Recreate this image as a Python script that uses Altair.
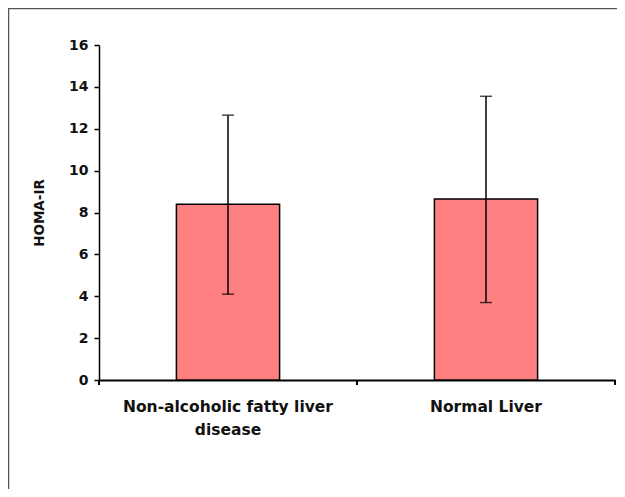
import altair as alt
import pandas as pd

categories = ["Non-alcoholic fatty liver disease", "Normal Liver"]
means = [8.40, 8.65]
lows = [4.10, 3.70]
highs = [12.65, 13.55]

df = pd.DataFrame({"group": categories, "mean": means, "lo": lows, "hi": highs})

W, H = 516, 335
LABEL_FONT = "DejaVu Sans"

xenc = alt.X(
    "group:N",
    sort=categories,
    scale=alt.Scale(paddingInner=0, paddingOuter=0),
    axis=alt.Axis(
        title=None, labelAngle=0, ticks=False, domainColor="black", domainWidth=2,
        labelFont=LABEL_FONT, labelFontWeight="bold", labelFontSize=15.5,
        labelColor="#111", labelPadding=19, labelLineHeight=23, labelLimit=400,
        labelExpr="datum.label == 'Non-alcoholic fatty liver disease' ? ['Non-alcoholic fatty liver', 'disease'] : datum.label",
    ),
)
yscale = alt.Scale(domain=[0, 16], nice=False)

base = alt.Chart(df)

bars = base.mark_bar(
    width=alt.RelativeBandSize(0.4), color="#FF8080", stroke="black", strokeWidth=1.5
).encode(
    x=xenc,
    y=alt.Y(
        "mean:Q",
        scale=yscale,
        axis=alt.Axis(
            title="HOMA-IR", values=list(range(0, 17, 2)), grid=False,
            domainColor="black", domainWidth=1.5, tickColor="black", tickWidth=1.5,
            tickSize=5, labelFont=LABEL_FONT, labelFontWeight="bold",
            labelFontSize=14, labelColor="#111", labelPadding=6,
            titleFont=LABEL_FONT, titleFontWeight="bold", titleFontSize=13.5,
            titleColor="#111", titlePadding=22,
        ),
    ),
)

err = base.mark_rule(color="black", strokeWidth=1.5).encode(
    x=alt.X("group:N", sort=categories), y="lo:Q", y2="hi:Q"
)
cap_hi = base.mark_tick(color="black", thickness=1.5, size=12, orient="horizontal").encode(
    x=alt.X("group:N", sort=categories), y="hi:Q"
)
cap_lo = base.mark_tick(color="black", thickness=1.5, size=12, orient="horizontal").encode(
    x=alt.X("group:N", sort=categories), y="lo:Q"
)

xticks = base.mark_rule(color="black", strokeWidth=2).encode(
    x=alt.X("group:N", sort=categories, bandPosition=0),
    y=alt.value(H), y2=alt.value(H + 5),
)
end_tick = alt.Chart(pd.DataFrame({"a": [0]})).mark_rule(color="black", strokeWidth=2).encode(
    x=alt.value(W), y=alt.value(H), y2=alt.value(H + 5)
)

frame = alt.Chart(pd.DataFrame({"a": [0]})).mark_rect(
    fill=None, stroke="#555", strokeWidth=1.5
).encode(
    x=alt.value(-90.5), x2=alt.value(W + 40), y=alt.value(-36.5), y2=alt.value(H + 200)
)

chart = alt.layer(frame, bars, err, cap_hi, cap_lo, xticks, end_tick).properties(
    width=W, height=H,
    autosize=alt.AutoSizeParams(type="none"),
    padding={"left": 91, "top": 37, "right": 2, "bottom": 109},
).configure_view(stroke=None)

chart.save("out.html", embed_options={"renderer": "svg", "actions": False})
